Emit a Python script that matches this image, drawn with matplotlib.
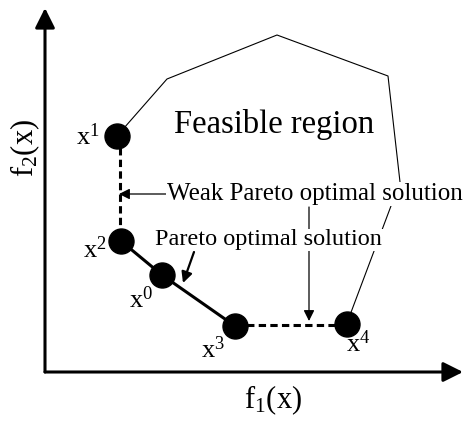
import numpy as np
import matplotlib.pyplot as plt

# Sketch in pixel units (y grows downward)
plt.rcParams['font.family'] = 'Liberation Serif'
plt.rcParams['mathtext.fontset'] = 'custom'
plt.rcParams['mathtext.rm'] = 'Liberation Serif'
plt.rcParams['mathtext.it'] = 'Liberation Serif'

# solution points
pt_names = ['x1', 'x2', 'x0', 'x3', 'x4']
pt_x = [117, 121, 162, 235, 347]
pt_y = [136, 241, 275, 326, 324]
pt_labels = [r'x$^1$', r'x$^2$', r'x$^0$', r'x$^3$', r'x$^4$']
lab_x = [88, 95, 141, 213, 358]
lab_y = [137, 250, 300, 350, 344]

# weak pareto segments (vertical and horizontal)
weak_vx, weak_vy = [120, 120], [136, 241]
weak_hx, weak_hy = [235, 347], [325, 325]

# feasible region boundary (upper part, from x1 to x4)
bound_x = [117, 167, 277, 388, 400, 347]
bound_y = [136, 79, 35, 76, 182, 323]

# axes
origin = (45, 372)
y_tip = (45, 8)
x_tip = (463, 372)

fig = plt.figure(figsize=(4.65, 4.21), dpi=100)
ax = fig.add_axes([0, 0, 1, 1])
ax.set_xlim(0, 465)
ax.set_ylim(421, 0)
ax.axis('off')

big_arrow = dict(arrowstyle='-|>', mutation_scale=30, lw=2.2, color='k',
                 shrinkA=0, shrinkB=0)
ax.annotate('', xy=y_tip, xytext=origin, arrowprops=big_arrow)
ax.annotate('', xy=x_tip, xytext=origin, arrowprops=big_arrow)

# feasible boundary
ax.plot(bound_x, bound_y, color='k', lw=0.8, zorder=1)

# weak pareto dashed lines
ax.plot(weak_vx, weak_vy, color='k', lw=2.2, ls=(0, (2.4, 1.4)), zorder=2)
ax.plot(weak_hx, weak_hy, color='k', lw=2.2, ls=(0, (2.4, 1.4)), zorder=2)

# pareto front solid line
ax.plot(pt_x[1:4], pt_y[1:4], color='k', lw=2.2, zorder=2)

ax.plot(pt_x, pt_y, 'o', color='k', ms=18, zorder=5)

for lab, lx, ly in zip(pt_labels, lab_x, lab_y):
    ax.text(lx, ly, lab, fontsize=19, ha='center', va='center')

# annotation arrows
ax.annotate('', xy=(119, 194), xytext=(168, 194),
            arrowprops=dict(arrowstyle='-|>', mutation_scale=16, lw=0.9,
                            color='k', shrinkA=0, shrinkB=0))
ax.annotate('', xy=(183, 283), xytext=(194, 252),
            arrowprops=dict(arrowstyle='-|>', mutation_scale=16, lw=1.6,
                            color='k', shrinkA=0, shrinkB=0))
ax.annotate('', xy=(309, 321), xytext=(309, 207),
            arrowprops=dict(arrowstyle='-|>', mutation_scale=16, lw=0.9,
                            color='k', shrinkA=0, shrinkB=0), zorder=1)

ax.text(167, 194, 'Weak Pareto optimal solution', fontsize=18, ha='left',
        va='center', zorder=3,
        bbox=dict(facecolor='white', edgecolor='none', pad=0.5))
ax.text(155, 240, 'Pareto optimal solution', fontsize=17.5, ha='left',
        va='center', zorder=3,
        bbox=dict(facecolor='white', edgecolor='none', pad=0.5))
ax.text(274, 124, 'Feasible region', fontsize=23.5, ha='center', va='center')

ax.text(273, 400, r'f$_1$(x)', fontsize=22, ha='center', va='center')
ax.text(25, 148, r'f$_2$(x)', fontsize=22, ha='center', va='center',
        rotation=90)

fig.savefig('out.png', dpi=100)
